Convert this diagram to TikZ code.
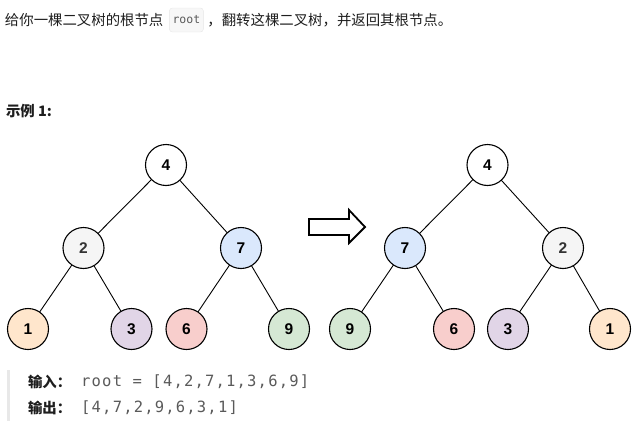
\documentclass[tikz,border=0pt]{standalone}
\usepackage{fontspec}
\setmainfont{Liberation Sans}
\newfontfamily\cjk{Noto Sans CJK SC}
\newfontfamily\codefont[LetterSpace=7.7]{DejaVu Sans Mono}
\newfontfamily\inlinecode{DejaVu Sans Mono}
\usetikzlibrary{positioning}

\definecolor{gray2}{HTML}{F5F5F5}
\definecolor{blue7}{HTML}{DAE8FC}
\definecolor{orange1}{HTML}{FFE6CC}
\definecolor{purple3}{HTML}{E1D5E7}
\definecolor{red6}{HTML}{F8CECC}
\definecolor{green9}{HTML}{D5E8D4}
\definecolor{codebg}{HTML}{F7F7F7}
\definecolor{codeborder}{HTML}{E6E6E6}
\definecolor{codetext}{HTML}{5A5A5A}
\definecolor{labeltext}{HTML}{1E1E1E}
\definecolor{quotebar}{HTML}{E8E8E8}

\begin{document}
\begin{tikzpicture}[
    x=1pt, y=-1pt,
    every node/.style={inner sep=0pt, outer sep=0pt},
    tnode/.style={circle, draw, line width=1.1pt, minimum size=41pt, font=\fontsize{15.5}{15.5}\selectfont\bfseries},
    link/.style={line width=0.9pt},
    cntext/.style={font=\cjk\fontsize{14.4}{16}\selectfont, text=labeltext},
    cnbold/.style={font=\cjk\bfseries\fontsize{14.4}{16}\selectfont, text=labeltext},
    codebox/.style={draw=codeborder, fill=codebg, rounded corners=3pt, minimum width=34pt, minimum height=24pt, font=\inlinecode\fontsize{11.5}{12}\selectfont, text=codetext},
    value/.style={font=\codefont\fontsize{15.5}{16}\selectfont, text=codetext},
    flip/.style={draw, line width=1.8pt, line join=miter}
]
    \useasboundingbox (0,0) rectangle (634,423);

    % problem text
    \node (intro) [cntext, anchor=west] at (5,20) {给你一棵二叉树的根节点};
    \node (code) [codebox, right=6pt of intro] {root};
    \node (introrest) [cntext, right=4pt of code] {，翻转这棵二叉树，并返回其根节点。};
    \node (example) [cnbold, anchor=west] at (6,111) {示例 1:};

    % input tree
    \node (in4) [tnode, fill=white] at (166,165) {4};
    \node (in2) [tnode, fill=gray2, text=black!80] at (83.5,248) {2};
    \node (in7) [tnode, fill=blue7] at (241,248) {7};
    \node (in1) [tnode, fill=orange1] at (28,329) {1};
    \node (in3) [tnode, fill=purple3] at (131.5,329) {3};
    \node (in6) [tnode, fill=red6] at (186.5,329) {6};
    \node (in9) [tnode, fill=green9] at (289,329) {9};

    \draw [link] (in4) -- (in2);
    \draw [link] (in4) -- (in7);
    \draw [link] (in2) -- (in1);
    \draw [link] (in2) -- (in3);
    \draw [link] (in7) -- (in6);
    \draw [link] (in7) -- (in9);

    % hollow arrow
    \coordinate (flipstart) at (309,227);
    \draw [flip] (flipstart) ++(0,-8) -- ++(40,0) -- ++(0,-9) -- ++(16,17) -- ++(-16,16) -- ++(0,-8) -- ++(-40,0) -- cycle;

    % output tree
    \node (out4) [tnode, fill=white] at (487.5,165) {4};
    \node (out7) [tnode, fill=blue7] at (405,248) {7};
    \node (out2) [tnode, fill=gray2, text=black!80] at (563,248) {2};
    \node (out9) [tnode, fill=green9] at (350,329) {9};
    \node (out6) [tnode, fill=red6] at (454,329) {6};
    \node (out3) [tnode, fill=purple3] at (508,329) {3};
    \node (out1) [tnode, fill=orange1] at (610,329) {1};

    \draw [link] (out4) -- (out7);
    \draw [link] (out4) -- (out2);
    \draw [link] (out7) -- (out9);
    \draw [link] (out7) -- (out6);
    \draw [link] (out2) -- (out3);
    \draw [link] (out2) -- (out1);

    % input / output
    \fill [quotebar] (7,370) rectangle (9.5,421);
    \node (inlabel) [cnbold, anchor=west] at (28,382) {输入：};
    \node (invalue) [value, right=10pt of inlabel] {root = [4,2,7,1,3,6,9]};
    \node (outlabel) [cnbold, anchor=west] at (28,408) {输出：};
    \node (outvalue) [value, right=10pt of outlabel] {[4,7,2,9,6,3,1]};
\end{tikzpicture}
\end{document}
